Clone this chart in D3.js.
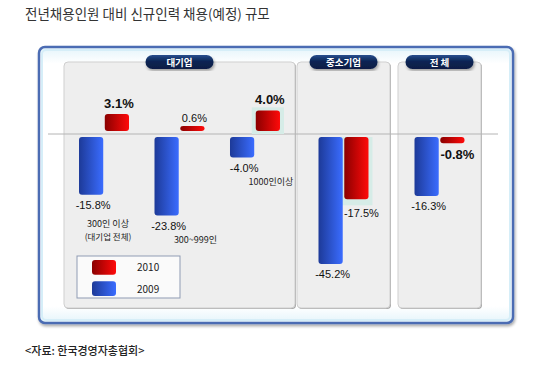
<!DOCTYPE html>
<html>
<head>
<meta charset="utf-8">
<script src="https://cdn.jsdelivr.net/npm/d3@7"></script>
<style>
  body { margin: 0; background: #fff; }
  svg { display: block; }
</style>
</head>
<body>
<div class="chart"></div>
<script>
// values
const panels = ["대기업", "중소기업", "전체"];
const categories = ["300인 이상", "300~999인", "1000인 이상", "중소기업", "전체"];
const categoryPanel = ["대기업", "대기업", "대기업", "중소기업", "전체"];
const categoryLabels = [["300인 이상", "(대기업 전체)"], ["300~999인"], ["1000인이상"], [], []];
const series = ["2009", "2010"];
const values2009 = [-15.8, -23.8, -4.0, -45.2, -16.3];
const values2010 = [3.1, 0.6, 4.0, -17.5, -0.8];
const emphasis2010 = ["300인 이상", "1000인 이상", "전체"];
const highlight2010 = ["1000인 이상", "중소기업"];

const width = 550;
const height = 379;
const zeroY = 134;
const gap = 3;

const rows = categories.map((c, i) => ({
  cat: c,
  panel: categoryPanel[i],
  labels: categoryLabels[i],
  "2009": values2009[i],
  "2010": values2010[i],
}));

const svg = d3
  .select(".chart")
  .append("svg")
  .attr("width", width)
  .attr("height", height)
  .attr("viewBox", [0, 0, width, height]);

const defs = svg.append("defs");

function hGrad(id, c0, c1) {
  const g = defs.append("linearGradient").attr("id", id).attr("x1", "0").attr("x2", "1").attr("y1", "0").attr("y2", "0");
  g.append("stop").attr("offset", "0%").attr("stop-color", c0);
  g.append("stop").attr("offset", "100%").attr("stop-color", c1);
}
hGrad("blue", "#1d3a98", "#3a6cff");
hGrad("red", "#8a0000", "#ff0a0a");

const tabGrad = defs.append("linearGradient").attr("id", "tab").attr("x1", 0).attr("x2", 0).attr("y1", 0).attr("y2", 1);
tabGrad.append("stop").attr("offset", "0%").attr("stop-color", "#2a4f8f");
tabGrad.append("stop").attr("offset", "45%").attr("stop-color", "#0b2454");
tabGrad.append("stop").attr("offset", "100%").attr("stop-color", "#0a1d45");

const frameGrad = defs.append("linearGradient").attr("id", "frame").attr("x1", 0).attr("x2", 0).attr("y1", 0).attr("y2", 1);
frameGrad.append("stop").attr("offset", "0%").attr("stop-color", "#e4f4fb");
frameGrad.append("stop").attr("offset", "6%").attr("stop-color", "#ffffff");
frameGrad.append("stop").attr("offset", "94%").attr("stop-color", "#ffffff");
frameGrad.append("stop").attr("offset", "100%").attr("stop-color", "#e4f4fb");

const shadow = defs.append("filter").attr("id", "shadow").attr("x", "-5%").attr("y", "-5%").attr("width", "110%").attr("height", "115%");
shadow.append("feGaussianBlur").attr("in", "SourceAlpha").attr("stdDeviation", 1.5);
shadow.append("feOffset").attr("dx", 1).attr("dy", 2).attr("result", "b");
shadow.append("feComponentTransfer").append("feFuncA").attr("type", "linear").attr("slope", 0.35);
const merge = shadow.append("feMerge");
merge.append("feMergeNode");
merge.append("feMergeNode").attr("in", "SourceGraphic");

// title
svg.append("text")
  .attr("x", 25).attr("y", 19)
  .style("font-family", "'Noto Sans CJK KR', sans-serif")
  .style("font-size", "13.5px")
  .attr("fill", "#333")
  .text("전년채용인원 대비 신규인력 채용(예정) 규모");

// outer frame
svg.append("rect")
  .attr("x", 39).attr("y", 47).attr("width", 474).attr("height", 276)
  .attr("rx", 6)
  .attr("fill", "url(#frame)")
  .attr("stroke", "#4b6cb3").attr("stroke-width", 2.5)
  .attr("filter", "url(#shadow)");
svg.append("rect")
  .attr("x", 42).attr("y", 50).attr("width", 468).attr("height", 270)
  .attr("rx", 4)
  .attr("fill", "none")
  .attr("stroke", "#d6eef8").attr("stroke-width", 2);

// panels
const panelBox = {
  "대기업": [64, 295],
  "중소기업": [297, 390],
  "전체": [398, 481],
};
const panelTop = 62;
const panelBottom = 308;

panels.forEach((p) => {
  const [x0, x1] = panelBox[p];
  svg.append("rect")
    .attr("x", x0 + 1).attr("y", panelTop + 1).attr("width", x1 - x0).attr("height", panelBottom - panelTop)
    .attr("rx", 4).attr("fill", "#a8a8a8");
  svg.append("rect")
    .attr("x", x0).attr("y", panelTop).attr("width", x1 - x0).attr("height", panelBottom - panelTop)
    .attr("rx", 4).attr("fill", "#eeeeee").attr("stroke", "#cfcfcf").attr("stroke-width", 1);
});

// zero line
svg.append("line")
  .attr("x1", 48).attr("x2", 498)
  .attr("y1", zeroY).attr("y2", zeroY)
  .attr("stroke", "#b4b4b4").attr("stroke-width", 1);

// tabs
panels.forEach((p) => {
  const [x0, x1] = panelBox[p];
  const cx = (x0 + x1) / 2;
  svg.append("rect")
    .attr("x", cx - 34).attr("y", 55).attr("width", 68).attr("height", 14)
    .attr("rx", 7).attr("fill", "url(#tab)")
    .attr("filter", "url(#shadow)");
  svg.append("text")
    .attr("x", cx).attr("y", 66)
    .attr("text-anchor", "middle")
    .style("font-family", "'Noto Sans CJK KR', sans-serif")
    .style("font-size", "9.5px").style("font-weight", "bold")
    .attr("fill", "#fff")
    .text(p === "전체" ? "전  체" : p);
});

// scales
const maxAbs = d3.max(rows, (d) => Math.max(Math.abs(d["2009"]), Math.abs(d["2010"])));
const h = d3.scalePow().exponent(0.75).domain([0, maxAbs]).range([0, 127]);

const xPanel = {};
panels.forEach((p) => {
  const cats = rows.filter((d) => d.panel === p).map((d) => d.cat);
  xPanel[p] = d3.scalePoint().domain(cats).range(panelBox[p]).padding(cats.length > 1 ? 0.53 : 0.5);
});
const xInner = d3.scaleBand().domain(series).range([-25, 25]).paddingInner(0.06);

const barTop = (v) => (v >= 0 ? zeroY - gap - h(v) : zeroY + gap);
const barBottom = (v) => (v >= 0 ? zeroY - gap : zeroY + gap + h(-v));

const groups = svg.selectAll("g.grp")
  .data(rows)
  .join("g")
  .attr("class", "grp")
  .attr("transform", (d) => `translate(${xPanel[d.panel](d.cat)},0)`);

// highlight boxes behind some 2010 bars
groups.filter((d) => highlight2010.includes(d.cat))
  .append("rect")
  .attr("x", xInner("2010") - 4)
  .attr("width", xInner.bandwidth() + 8)
  .attr("y", (d) => (d["2010"] >= 0 ? barTop(d["2010"]) - 3 : zeroY + gap))
  .attr("height", (d) => (d["2010"] >= 0 ? zeroY - barTop(d["2010"]) + 3 : h(-d["2010"]) + 6))
  .attr("fill", "#d6ece7");

series.forEach((s) => {
  groups.append("rect")
    .attr("x", xInner(s))
    .attr("width", xInner.bandwidth())
    .attr("y", (d) => barTop(d[s]))
    .attr("height", (d) => barBottom(d[s]) - barTop(d[s]))
    .attr("rx", 3)
    .attr("fill", s === "2009" ? "url(#blue)" : "url(#red)");
});

// value labels
const fmt = (v) => v.toFixed(1) + "%";
series.forEach((s) => {
  groups.append("text")
    .attr("x", (d) => xInner(s) + xInner.bandwidth() / 2 + (s === "2010" && d["2010"] < 0 ? 5 : 2))
    .attr("y", (d) => {
      const v = d[s];
      const bold = s === "2010" && emphasis2010.includes(d.cat);
      if (v >= 0) return barTop(v) - (bold ? 6 : 4);
      const extra = s === "2010" && highlight2010.includes(d.cat) ? 4 : 0;
      return barBottom(v) + (bold ? 16 : 14) + extra;
    })
    .attr("text-anchor", "middle")
    .style("font-family", "'Liberation Sans', Arial, sans-serif")
    .style("font-size", (d) => (s === "2010" && emphasis2010.includes(d.cat) ? "13px" : "11px"))
    .style("font-weight", (d) => (s === "2010" && emphasis2010.includes(d.cat) ? "bold" : "normal"))
    .attr("fill", "#111")
    .text((d) => fmt(d[s]));
});

// category labels under the 대기업 groups
groups.each(function (d) {
  const g = d3.select(this);
  const two = d.labels.length > 1;
  const base = barBottom(d["2009"]) + 14 + (two ? 18 : 13);
  const shift = two ? 4 : 16;
  d.labels.forEach((t, i) => {
    g.append("text")
      .attr("x", shift)
      .attr("y", base + i * 13)
      .attr("text-anchor", "middle")
      .style("font-family", "'Noto Sans CJK KR', sans-serif")
      .style("font-size", i === 0 ? "9px" : "8.5px")
      .attr("fill", "#222")
      .text(t);
  });
});

// legend
const legend = svg.append("g").attr("transform", "translate(77,256)");
legend.append("rect")
  .attr("width", 103).attr("height", 42)
  .attr("fill", "#fafafa").attr("stroke", "#8f9bb3").attr("stroke-width", 1);
const legendY = d3.scaleBand().domain(["2010", "2009"]).range([4, 40]).paddingInner(0.3);
legend.selectAll("rect.sw")
  .data(legendY.domain())
  .join("rect")
  .attr("class", "sw")
  .attr("x", 15).attr("y", (d) => legendY(d))
  .attr("width", 24).attr("height", legendY.bandwidth())
  .attr("rx", 3)
  .attr("fill", (d) => (d === "2009" ? "url(#blue)" : "url(#red)"));
legend.selectAll("text")
  .data(legendY.domain())
  .join("text")
  .attr("x", 60).attr("y", (d) => legendY(d) + legendY.bandwidth() / 2 + 4)
  .style("font-family", "'Noto Sans CJK KR', sans-serif")
  .style("font-size", "10px")
  .attr("fill", "#222")
  .text((d) => d);

// source
svg.append("text")
  .attr("x", 25).attr("y", 355)
  .style("font-family", "'Noto Sans CJK KR', sans-serif")
  .style("font-size", "11px")
  .style("font-weight", "500")
  .attr("fill", "#222")
  .text("<자료: 한국경영자총협회>");
</script>
</body>
</html>
